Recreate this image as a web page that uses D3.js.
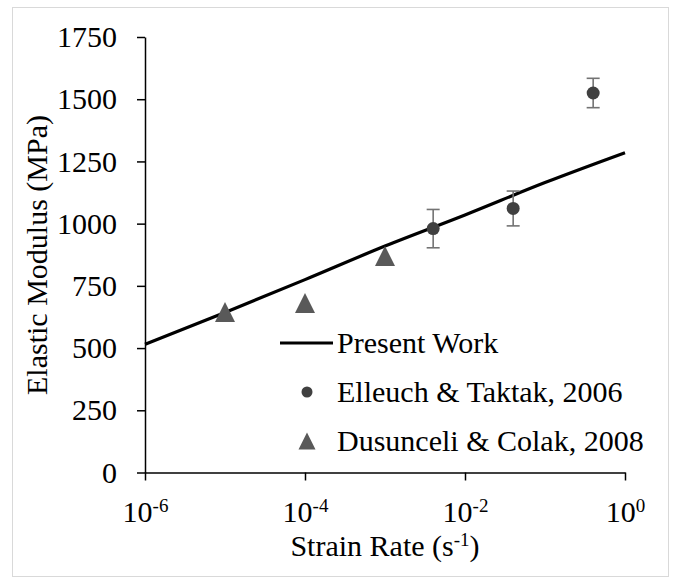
<!DOCTYPE html>
<html>
<head>
<meta charset="utf-8">
<script src="https://cdn.jsdelivr.net/npm/d3@7/dist/d3.min.js"></script>
<style>
  html, body { margin: 0; padding: 0; background: #fff; }
</style>
</head>
<body>
<svg id="chart" width="673" height="579"></svg>
<script>
// Present Work model curve: elastic modulus vs strain rate
const modelRate = [1e-6, 1e-5, 1e-4, 1e-3, 1e-2, 1e-1, 1];
const modelModulus = [515, 643, 775, 910, 1035, 1165, 1285];

// Elleuch & Taktak, 2006 (mean and error half-width)
const elleuchRate = [0.004, 0.04, 0.4];
const elleuchModulus = [980, 1061, 1525];
const elleuchError = [77, 70, 59];

// Dusunceli & Colak, 2008
const dusunceliRate = [1e-5, 1e-4, 1e-3];
const dusunceliModulus = [645, 681, 870];

const yTicks = [0, 250, 500, 750, 1000, 1250, 1500, 1750];
const xTicks = [1e-6, 1e-4, 1e-2, 1];
const xTickExponents = ["-6", "-4", "-2", "0"];

const legendLabels = ["Present Work", "Elleuch & Taktak, 2006", "Dusunceli & Colak, 2008"];

const FONT = "'Liberation Serif'";

const svg = d3.select("#chart");

// chart-area frame
svg.append("rect")
  .attr("x", 12.5).attr("y", 7.5)
  .attr("width", 656).attr("height", 569)
  .attr("fill", "#fff")
  .attr("stroke", "#d9d9d9")
  .attr("stroke-width", 1);

const x = d3.scaleLog().domain([1e-6, 1]).range([145, 625]);
const y = d3.scaleLinear().domain([0, 1750]).range([472.5, 37]);

// y axis
const yAxis = svg.append("g")
  .attr("transform", `translate(${x.range()[0]},0)`)
  .call(d3.axisLeft(y).tickValues(yTicks).tickSize(8).tickSizeOuter(0).tickPadding(20).tickFormat(d3.format("d")));
yAxis.attr("font-family", null).attr("font-size", null);
yAxis.select(".domain").attr("stroke", "#000").attr("stroke-width", 1.5);
yAxis.selectAll(".tick line").attr("stroke", "#000").attr("stroke-width", 1.5);
yAxis.selectAll(".tick text")
  .style("font-family", FONT)
  .style("font-size", "30px")
  .attr("fill", "#000");

// x axis
const xAxis = svg.append("g")
  .attr("transform", `translate(0,${y(0)})`)
  .call(d3.axisBottom(x).tickValues(xTicks).tickSize(8).tickSizeOuter(0).tickPadding(10).tickFormat(() => ""));
xAxis.attr("font-family", null).attr("font-size", null);
xAxis.select(".domain").attr("stroke", "#000").attr("stroke-width", 1.5);
xAxis.selectAll(".tick line").attr("stroke", "#000").attr("stroke-width", 1.5);
xAxis.selectAll(".tick text").each(function(d, i) {
  const t = d3.select(this)
    .style("font-family", FONT)
    .style("font-size", "30px")
    .attr("fill", "#000")
    .attr("dy", null)
    .attr("y", 49.5)
    .attr("text-anchor", "middle");
  t.append("tspan").text("10");
  t.append("tspan").style("font-size", "19px").attr("dy", -10).text(xTickExponents[i]);
});

// axis titles
svg.append("text")
  .attr("x", 385).attr("y", 556)
  .attr("text-anchor", "middle")
  .style("font-family", FONT)
  .style("font-size", "30px")
  .attr("fill", "#000")
  .call(t => {
    t.append("tspan").text("Strain Rate (s");
    t.append("tspan").style("font-size", "19px").attr("dy", -10).text("-1");
    t.append("tspan").attr("dy", 10).text(")");
  });

svg.append("text")
  .attr("transform", "translate(47,255) rotate(-90)")
  .attr("text-anchor", "middle")
  .style("font-family", FONT)
  .style("font-size", "30px")
  .attr("fill", "#000")
  .text("Elastic Modulus (MPa)");

// model line
const line = d3.line()
  .x((d, i) => x(modelRate[i]))
  .y(d => y(d))
  .curve(d3.curveMonotoneX);
svg.append("path")
  .datum(modelModulus)
  .attr("d", line)
  .attr("fill", "none")
  .attr("stroke", "#000")
  .attr("stroke-width", 3.2);

// Dusunceli & Colak triangles
function trianglePath(w) {
  const h = w;
  return `M0,${-h / 2}L${w / 2},${h / 2}L${-w / 2},${h / 2}Z`;
}
svg.append("g").selectAll("path")
  .data(dusunceliModulus)
  .join("path")
  .attr("transform", (d, i) => `translate(${x(dusunceliRate[i])},${y(d)})`)
  .attr("d", trianglePath(20))
  .attr("fill", "#595959");

// Elleuch & Taktak error bars and points
const errG = svg.append("g").attr("stroke", "#737373").attr("stroke-width", 1.6);
elleuchModulus.forEach((m, i) => {
  const cx = x(elleuchRate[i]);
  const top = y(m + elleuchError[i]);
  const bot = y(m - elleuchError[i]);
  errG.append("line").attr("x1", cx).attr("x2", cx).attr("y1", top).attr("y2", bot);
  errG.append("line").attr("x1", cx - 6.5).attr("x2", cx + 6.5).attr("y1", top).attr("y2", top);
  errG.append("line").attr("x1", cx - 6.5).attr("x2", cx + 6.5).attr("y1", bot).attr("y2", bot);
});
svg.append("g").selectAll("circle")
  .data(elleuchModulus)
  .join("circle")
  .attr("cx", (d, i) => x(elleuchRate[i]))
  .attr("cy", d => y(d))
  .attr("r", 6.5)
  .attr("fill", "#404040");

// legend
const lg = svg.append("g").attr("transform", "translate(280,0)");
const rowY = [343, 392, 441];
lg.append("line")
  .attr("x1", 0).attr("x2", 53)
  .attr("y1", rowY[0]).attr("y2", rowY[0])
  .attr("stroke", "#000").attr("stroke-width", 3.2);
lg.append("circle")
  .attr("cx", 27).attr("cy", rowY[1]).attr("r", 5.5)
  .attr("fill", "#404040");
lg.append("path")
  .attr("transform", `translate(27,${rowY[2]})`)
  .attr("d", trianglePath(17))
  .attr("fill", "#595959");
lg.selectAll("text.lbl")
  .data(legendLabels)
  .join("text")
  .attr("class", "lbl")
  .attr("x", 57)
  .attr("y", (d, i) => rowY[i] + 10)
  .style("font-family", FONT)
  .style("font-size", "30px")
  .attr("fill", "#000")
  .text(d => d);
</script>
</body>
</html>
